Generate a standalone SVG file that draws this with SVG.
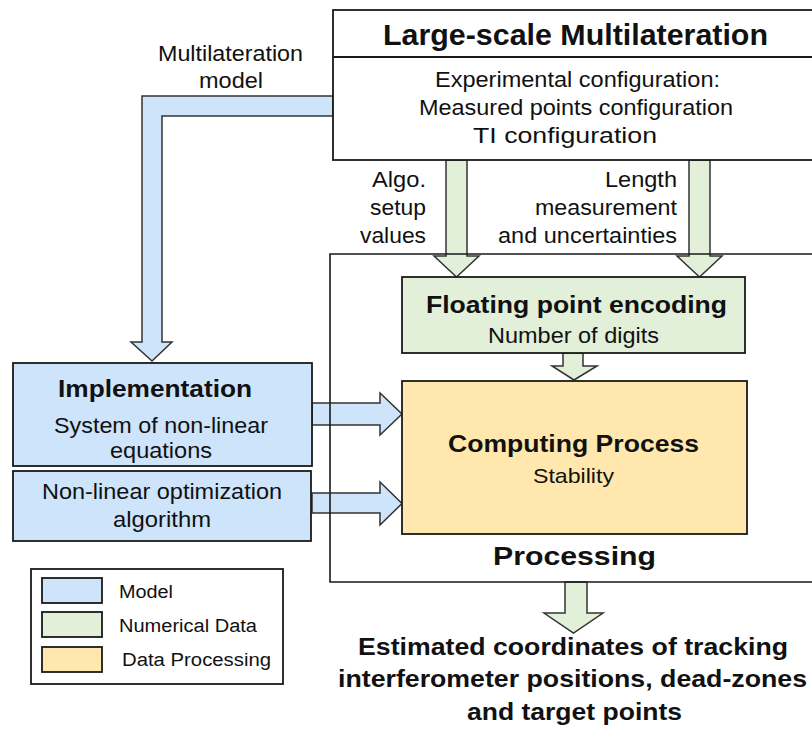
<svg xmlns="http://www.w3.org/2000/svg" width="812" height="729" viewBox="0 0 812 729">
<style>
.t{font-family:"Liberation Sans",Arial,sans-serif;fill:#111}
.b{font-weight:bold}
.r22{font-size:22px}
.box{stroke:#1a1a1a;stroke-width:1.8}
.arr{stroke:#333;stroke-width:1.5;stroke-linejoin:miter}
.blue{fill:#cde4fb}
.green{fill:#e2efd9}
.gold{fill:#ffe7ad}
.frame{fill:none;stroke:#1a1a1a;stroke-width:1.6}
</style>
<rect width="812" height="729" fill="#fff"/>

<g id="connectors">
<polygon class="arr blue" points="333,96 142,96 142,342 131,342 152,361 172,342 162,342 162,116 333,116"/>
<polygon class="arr green" points="446,160 467,160 467,256 479,256 456.5,277 434,256 446,256"/>
<polygon class="arr green" points="689,160 710,160 710,256 722,256 699.5,277 677,256 689,256"/>
<polygon class="arr green" points="563,353 583,353 583,366 597,366 574,380 552,366 563,366"/>
<polygon class="arr blue" points="312,403 380,403 380,393 402,414 380,435 380,425 312,425"/>
<polygon class="arr blue" points="312,493 380,493 380,482 402,503.5 380,525 380,513 312,513"/>
<polygon class="arr green" points="565,582 587,582 587,613 603,613 573.5,633 544,613 565,613"/>
</g>

<g id="processing">
<polyline class="frame" points="830,254 330,254 330,582 830,582"/>
<text class="t b" x="493" y="565" font-size="26" textLength="163" lengthAdjust="spacingAndGlyphs">Processing</text>
</g>

<g id="large-scale-multilateration">
<rect class="box" x="333" y="10" width="500" height="150" fill="#fff"/>
<line class="box" x1="333" y1="57" x2="833" y2="57"/>
<text class="t b" x="383" y="45" font-size="29" textLength="385" lengthAdjust="spacingAndGlyphs">Large-scale Multilateration</text>
<text class="t r22" x="435" y="87" textLength="285" lengthAdjust="spacingAndGlyphs">Experimental configuration:</text>
<text class="t r22" x="419" y="115" textLength="314" lengthAdjust="spacingAndGlyphs">Measured points configuration</text>
<text class="t r22" x="473" y="142.5" textLength="184" lengthAdjust="spacingAndGlyphs">TI configuration</text>
</g>

<g id="label-multilateration-model">
<text class="t r22" x="158" y="61" textLength="145" lengthAdjust="spacingAndGlyphs">Multilateration</text>
<text class="t r22" x="199" y="88" textLength="64" lengthAdjust="spacingAndGlyphs">model</text>
</g>

<g id="label-algo">
<text class="t r22" x="372" y="187" textLength="54" lengthAdjust="spacingAndGlyphs">Algo.</text>
<text class="t r22" x="370" y="215" textLength="56" lengthAdjust="spacingAndGlyphs">setup</text>
<text class="t r22" x="360" y="243" textLength="66" lengthAdjust="spacingAndGlyphs">values</text>
</g>

<g id="label-length">
<text class="t r22" x="605" y="187" textLength="72" lengthAdjust="spacingAndGlyphs">Length</text>
<text class="t r22" x="535" y="215" textLength="142" lengthAdjust="spacingAndGlyphs">measurement</text>
<text class="t r22" x="498" y="243" textLength="179" lengthAdjust="spacingAndGlyphs">and uncertainties</text>
</g>

<g id="floating-point-encoding">
<rect class="box green" x="402" y="277" width="343" height="76"/>
<text class="t b" x="426" y="313" font-size="24.5" textLength="301" lengthAdjust="spacingAndGlyphs">Floating point encoding</text>
<text class="t r22" x="488" y="343" textLength="171" lengthAdjust="spacingAndGlyphs">Number of digits</text>
</g>

<g id="computing-process">
<rect class="box gold" x="402" y="381" width="345" height="153"/>
<text class="t b" x="448" y="452" font-size="24" textLength="251" lengthAdjust="spacingAndGlyphs">Computing Process</text>
<text class="t" x="533" y="483" font-size="21" textLength="81" lengthAdjust="spacingAndGlyphs">Stability</text>
</g>

<g id="implementation">
<rect class="box blue" x="13" y="363" width="299" height="103"/>
<text class="t b" x="58" y="397" font-size="23" textLength="194" lengthAdjust="spacingAndGlyphs">Implementation</text>
<text class="t r22" x="54" y="433" textLength="214" lengthAdjust="spacingAndGlyphs">System of non-linear</text>
<text class="t r22" x="110" y="458" textLength="102" lengthAdjust="spacingAndGlyphs">equations</text>
</g>

<g id="optimization-algorithm">
<rect class="box blue" x="13" y="471" width="298" height="70"/>
<text class="t r22" x="42" y="499" textLength="240" lengthAdjust="spacingAndGlyphs">Non-linear optimization</text>
<text class="t r22" x="113" y="527" textLength="98" lengthAdjust="spacingAndGlyphs">algorithm</text>
</g>

<g id="output">
<text class="t b" x="358" y="655" font-size="24" textLength="430" lengthAdjust="spacingAndGlyphs">Estimated coordinates of tracking</text>
<text class="t b" x="338" y="687" font-size="24" textLength="469" lengthAdjust="spacingAndGlyphs">interferometer positions, dead-zones</text>
<text class="t b" x="467" y="720" font-size="24" textLength="215" lengthAdjust="spacingAndGlyphs">and target points</text>
</g>

<g id="legend">
<rect class="box" x="31" y="569" width="252" height="115" fill="#fff" stroke-width="1.5"/>
<rect class="box blue" x="42" y="578" width="60" height="25" stroke-width="1.5"/>
<rect class="box green" x="42" y="612" width="60" height="25" stroke-width="1.5"/>
<rect class="box gold" x="42" y="647" width="60" height="25" stroke-width="1.5"/>
<text class="t" x="119" y="598" font-size="18" textLength="54" lengthAdjust="spacingAndGlyphs">Model</text>
<text class="t" x="119" y="632" font-size="18" textLength="138" lengthAdjust="spacingAndGlyphs">Numerical Data</text>
<text class="t" x="122" y="666" font-size="18" textLength="149" lengthAdjust="spacingAndGlyphs">Data Processing</text>
</g>
</svg>
